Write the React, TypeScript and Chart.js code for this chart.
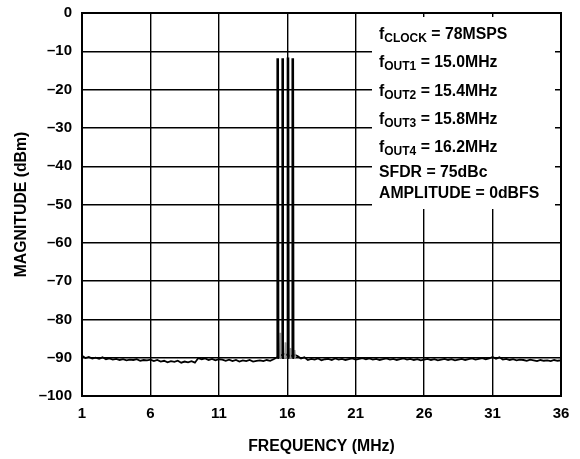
import { useEffect, useRef } from "react";
import { Chart, registerables } from "chart.js";
Chart.register(...registerables);

const xTickValues = [1, 6, 11, 16, 21, 26, 31, 36];
const yMin = -100;
const yMax = 0;

const noiseFreq = [
  1.0, 1.25, 1.5, 1.75, 2.0, 2.25, 2.5, 2.75, 3.0, 3.25, 3.5, 3.75, 4.0, 4.25, 4.5, 4.75,
  5.0, 5.25, 5.5, 5.75, 6.0, 6.25, 6.5, 6.75, 7.0, 7.25, 7.5, 7.75, 8.0, 8.25, 8.5, 8.75,
  9.0, 9.25, 9.5, 9.75, 10.0, 10.25, 10.5, 10.75, 11.0, 11.25, 11.5, 11.75, 12.0, 12.25,
  12.5, 12.75, 13.0, 13.25, 13.5, 13.75, 14.0, 14.25, 14.5, 14.75, 15.0, 15.2, 15.45, 15.8,
  16.2, 16.55, 16.75, 17.0, 17.25, 17.5, 17.75, 18.0, 18.25, 18.5, 18.75, 19.0, 19.25, 19.5,
  19.75, 20.0, 20.25, 20.5, 20.75, 21.0, 21.25, 21.5, 21.75, 22.0, 22.25, 22.5, 22.75, 23.0,
  23.25, 23.5, 23.75, 24.0, 24.25, 24.5, 24.75, 25.0, 25.25, 25.5, 25.75, 26.0, 26.25, 26.5,
  26.75, 27.0, 27.25, 27.5, 27.75, 28.0, 28.25, 28.5, 28.75, 29.0, 29.25, 29.5, 29.75, 30.0,
  30.25, 30.5, 30.75, 31.0, 31.25, 31.5, 31.75, 32.0, 32.25, 32.5, 32.75, 33.0, 33.25, 33.5,
  33.75, 34.0, 34.25, 34.5, 34.75, 35.0, 35.25, 35.5, 35.75, 36.0,
];
const noiseDb = [
  -89.5, -90.1, -89.8, -90.2, -90.0, -90.3, -89.9, -90.4, -90.2, -90.5, -90.3, -90.6, -90.4, -90.7, -90.5, -90.6,
  -90.4, -90.8, -90.6, -90.7, -90.5, -90.9, -90.6, -91.0, -90.8, -91.2, -90.9, -91.1, -90.8, -91.3, -91.0, -91.2,
  -90.9, -91.3, -90.1, -90.4, -90.2, -90.6, -90.3, -90.7, -90.4, -90.5, -90.8, -90.5, -90.9, -90.6,
  -91.0, -90.7, -90.9, -90.6, -91.0, -90.8, -90.7, -90.9, -90.6, -90.8, -90.4, -90.0, -89.5, -89.0,
  -89.6, -89.3, -89.6, -90.2, -89.9, -90.6, -90.3, -90.5, -90.2, -90.7, -90.4, -90.3, -90.6, -90.2,
  -90.5, -90.3, -90.6, -90.4, -90.2, -90.5, -90.3, -90.1, -90.4, -90.2, -90.5, -90.3, -90.6, -90.4,
  -90.2, -90.5, -90.3, -90.6, -90.4, -90.2, -90.5, -90.3, -90.6, -90.4, -90.7, -90.5, -90.3, -90.6,
  -90.4, -90.7, -90.5, -90.3, -90.6, -90.4, -90.7, -90.5, -90.3, -90.6, -90.4, -90.2, -90.5, -90.3,
  -90.1, -90.4, -90.2, -89.8, -90.3, -89.9, -90.5, -90.3, -90.6, -90.4, -90.7, -90.5, -90.6, -90.8,
  -90.5, -90.7, -90.9, -90.6, -90.8, -90.7, -90.9, -90.6, -90.8, -90.7,
];

const toneFreq = [15.3, 15.65, 16.05, 16.4];
const tonePeakDb = [-11.8, -11.8, -11.6, -11.8];
const toneBaseDb = -90;
const toneHalfWidth = 0.03;

const spurFreq = [15.47, 15.85, 16.22, 16.55];
const spurDb = [-83.5, -86.0, -87.5, -88.0];

const noteLines = [
  { main: "f", sub: "CLOCK", rest: " = 78MSPS" },
  { main: "f", sub: "OUT1", rest: " = 15.0MHz" },
  { main: "f", sub: "OUT2", rest: " = 15.4MHz" },
  { main: "f", sub: "OUT3", rest: " = 15.8MHz" },
  { main: "f", sub: "OUT4", rest: " = 16.2MHz" },
  { main: "SFDR = 75dBc", sub: "", rest: "" },
  { main: "AMPLITUDE = 0dBFS", sub: "", rest: "" },
];
const noteLineY = [35, 63, 92, 120, 148, 173, 194];

const xTitle = "FREQUENCY (MHz)";
const yTitle = "MAGNITUDE (dBm)";

const FONT = "'Liberation Sans', Arial, sans-serif";

export default function App() {
  const ref = useRef<HTMLCanvasElement | null>(null);

  useEffect(() => {
    document.body.style.margin = "0";
    const canvas = ref.current;
    if (!canvas) return;

    const toneSets = toneFreq.map((f, i) => ({
      data: [
        { x: f - toneHalfWidth, y: toneBaseDb },
        { x: f, y: tonePeakDb[i] },
        { x: f + toneHalfWidth, y: toneBaseDb },
      ],
      borderColor: "#000",
      borderWidth: 2.6,
      pointRadius: 0,
      showLine: true,
      tension: 0,
    }));

    const spurSet = {
      data: spurFreq.flatMap((f, i) => [
        { x: f - 0.04, y: toneBaseDb },
        { x: f, y: spurDb[i] },
        { x: f + 0.04, y: toneBaseDb },
      ]),
      borderColor: "#9a9a9a",
      borderWidth: 1.3,
      pointRadius: 0,
      showLine: true,
      tension: 0,
    };

    const noiseSet = {
      data: noiseFreq.map((f, i) => ({ x: f, y: noiseDb[i] })),
      borderColor: "#000",
      borderWidth: 1.8,
      pointRadius: 0,
      showLine: true,
      tension: 0,
    };

    const overlay = {
      id: "overlay",
      afterDraw(chart: any) {
        const { ctx, chartArea } = chart;
        const { left, right, top, bottom } = chartArea;
        ctx.save();
        // note box (covers grid)
        ctx.fillStyle = "#fff";
        ctx.fillRect(372, top + 4, 555 - 372, 209 - top - 4);
        // frame
        ctx.strokeStyle = "#000";
        ctx.lineWidth = 2;
        ctx.strokeRect(left, top, right - left, bottom - top);
        // notes
        ctx.fillStyle = "#000";
        ctx.textBaseline = "middle";
        ctx.textAlign = "left";
        noteLines.forEach((ln, i) => {
          const y = noteLineY[i];
          let x = 379;
          ctx.font = `bold 15.8px ${FONT}`;
          ctx.fillText(ln.main, x, y);
          x += ctx.measureText(ln.main).width;
          if (ln.sub) {
            ctx.font = `bold 12px ${FONT}`;
            ctx.fillText(ln.sub, x, y + 4);
            x += ctx.measureText(ln.sub).width;
          }
          if (ln.rest) {
            ctx.font = `bold 15.8px ${FONT}`;
            ctx.fillText(ln.rest, x, y);
          }
        });
        // axis titles
        ctx.font = `bold 15.8px ${FONT}`;
        ctx.textAlign = "center";
        ctx.fillText(xTitle, (left + right) / 2, 447);
        ctx.translate(22, (top + bottom) / 2);
        ctx.rotate(-Math.PI / 2);
        ctx.fillText(yTitle, 0, 0);
        ctx.restore();
      },
    };

    const chart = new Chart(canvas, {
      type: "scatter",
      data: { datasets: [...toneSets, spurSet, noiseSet] as any },
      options: {
        animation: false,
        responsive: false,
        layout: { padding: { left: 0, right: 19, top: 13, bottom: 0 } },
        plugins: { legend: { display: false }, tooltip: { enabled: false } },
        scales: {
          x: {
            type: "linear",
            min: xTickValues[0],
            max: xTickValues[xTickValues.length - 1],
            afterBuildTicks: (s: any) => {
              s.ticks = xTickValues.map((v) => ({ value: v }));
            },
            afterFit: (s: any) => {
              s.height = 63;
              s.paddingLeft = 0;
              s.paddingRight = 0;
            },
            grid: { color: "#000", lineWidth: 1.4, drawTicks: false },
            border: { color: "#000", width: 2 },
            ticks: {
              color: "#000",
              font: { family: FONT, size: 15, weight: "bold" },
              padding: 9,
              maxRotation: 0,
              autoSkip: false,
              callback: (v: any) => String(v),
            },
          },
          y: {
            type: "linear",
            min: yMin,
            max: yMax,
            afterFit: (s: any) => {
              s.width = 82;
              s.paddingTop = 0;
              s.paddingBottom = 0;
            },
            grid: { color: "#000", lineWidth: 1.4, drawTicks: false },
            border: { color: "#000", width: 2 },
            ticks: {
              stepSize: 10,
              color: "#000",
              font: { family: FONT, size: 15, weight: "bold" },
              padding: 10,
              callback: (v: any) => (Number(v) < 0 ? "\u2013" + Math.abs(Number(v)) : String(v)),
            },
          },
        },
      },
      plugins: [overlay],
    });
    return () => chart.destroy();
  }, []);

  return <canvas ref={ref} width={580} height={459} style={{ display: "block" }} />;
}
